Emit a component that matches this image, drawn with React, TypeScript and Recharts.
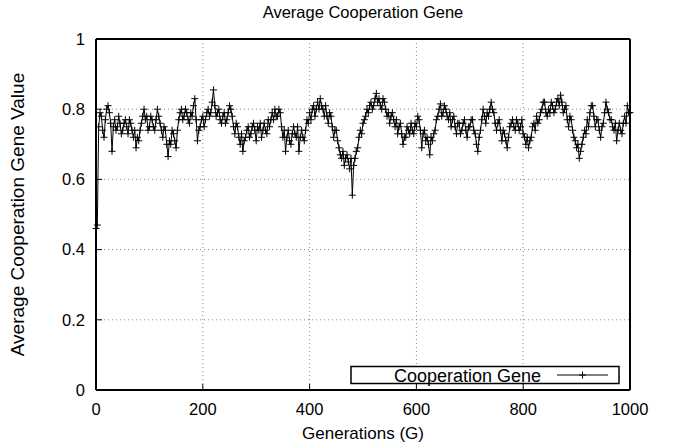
import React from 'react';
import { LineChart, Line, XAxis, YAxis, CartesianGrid } from 'recharts';

const generations = [
  0, 2.5, 5, 7.5, 10, 12.5, 15, 17.5, 20, 22.5, 25, 27.5, 30, 32.5, 35, 37.5, 40, 42.5, 45, 47.5,
  50, 52.5, 55, 57.5, 60, 62.5, 65, 67.5, 70, 72.5, 75, 77.5, 80, 82.5, 85, 87.5, 90, 92.5, 95, 97.5,
  100, 102.5, 105, 107.5, 110, 112.5, 115, 117.5, 120, 122.5, 125, 127.5, 130, 132.5, 135, 137.5, 140, 142.5, 145, 147.5,
  150, 152.5, 155, 157.5, 160, 162.5, 165, 167.5, 170, 172.5, 175, 177.5, 180, 182.5, 185, 187.5, 190, 192.5, 195, 197.5,
  200, 202.5, 205, 207.5, 210, 212.5, 215, 217.5, 220, 222.5, 225, 227.5, 230, 232.5, 235, 237.5, 240, 242.5, 245, 247.5,
  250, 252.5, 255, 257.5, 260, 262.5, 265, 267.5, 270, 272.5, 275, 277.5, 280, 282.5, 285, 287.5, 290, 292.5, 295, 297.5,
  300, 302.5, 305, 307.5, 310, 312.5, 315, 317.5, 320, 322.5, 325, 327.5, 330, 332.5, 335, 337.5, 340, 342.5, 345, 347.5,
  350, 352.5, 355, 357.5, 360, 362.5, 365, 367.5, 370, 372.5, 375, 377.5, 380, 382.5, 385, 387.5, 390, 392.5, 395, 397.5,
  400, 402.5, 405, 407.5, 410, 412.5, 415, 417.5, 420, 422.5, 425, 427.5, 430, 432.5, 435, 437.5, 440, 442.5, 445, 447.5,
  450, 452.5, 455, 457.5, 460, 462.5, 465, 467.5, 470, 472.5, 475, 477.5, 480, 482.5, 485, 487.5, 490, 492.5, 495, 497.5,
  500, 502.5, 505, 507.5, 510, 512.5, 515, 517.5, 520, 522.5, 525, 527.5, 530, 532.5, 535, 537.5, 540, 542.5, 545, 547.5,
  550, 552.5, 555, 557.5, 560, 562.5, 565, 567.5, 570, 572.5, 575, 577.5, 580, 582.5, 585, 587.5, 590, 592.5, 595, 597.5,
  600, 602.5, 605, 607.5, 610, 612.5, 615, 617.5, 620, 622.5, 625, 627.5, 630, 632.5, 635, 637.5, 640, 642.5, 645, 647.5,
  650, 652.5, 655, 657.5, 660, 662.5, 665, 667.5, 670, 672.5, 675, 677.5, 680, 682.5, 685, 687.5, 690, 692.5, 695, 697.5,
  700, 702.5, 705, 707.5, 710, 712.5, 715, 717.5, 720, 722.5, 725, 727.5, 730, 732.5, 735, 737.5, 740, 742.5, 745, 747.5,
  750, 752.5, 755, 757.5, 760, 762.5, 765, 767.5, 770, 772.5, 775, 777.5, 780, 782.5, 785, 787.5, 790, 792.5, 795, 797.5,
  800, 802.5, 805, 807.5, 810, 812.5, 815, 817.5, 820, 822.5, 825, 827.5, 830, 832.5, 835, 837.5, 840, 842.5, 845, 847.5,
  850, 852.5, 855, 857.5, 860, 862.5, 865, 867.5, 870, 872.5, 875, 877.5, 880, 882.5, 885, 887.5, 890, 892.5, 895, 897.5,
  900, 902.5, 905, 907.5, 910, 912.5, 915, 917.5, 920, 922.5, 925, 927.5, 930, 932.5, 935, 937.5, 940, 942.5, 945, 947.5,
  950, 952.5, 955, 957.5, 960, 962.5, 965, 967.5, 970, 972.5, 975, 977.5, 980, 982.5, 985, 987.5, 990, 992.5, 995, 997.5,
  1000,
];

const cooperationGene = [
  0.46, 0.47, 0.75, 0.79, 0.78, 0.74, 0.72, 0.77, 0.80, 0.81, 0.79, 0.76, 0.68, 0.75, 0.77, 0.74, 0.75, 0.78, 0.76, 0.73,
  0.74, 0.76, 0.77, 0.75, 0.73, 0.77, 0.76, 0.74, 0.72, 0.74, 0.69, 0.72, 0.71, 0.74, 0.76, 0.78, 0.80, 0.77, 0.78, 0.74,
  0.75, 0.78, 0.77, 0.75, 0.74, 0.77, 0.80, 0.78, 0.76, 0.74, 0.72, 0.75, 0.74, 0.70, 0.665, 0.71, 0.70, 0.74, 0.73, 0.71,
  0.69, 0.74, 0.77, 0.79, 0.80, 0.77, 0.78, 0.80, 0.79, 0.77, 0.76, 0.79, 0.78, 0.81, 0.83, 0.77, 0.71, 0.74, 0.75, 0.77,
  0.78, 0.75, 0.77, 0.79, 0.80, 0.78, 0.79, 0.82, 0.855, 0.81, 0.78, 0.79, 0.80, 0.77, 0.76, 0.78, 0.79, 0.76, 0.77, 0.79,
  0.81, 0.80, 0.78, 0.75, 0.73, 0.76, 0.75, 0.72, 0.70, 0.73, 0.68, 0.71, 0.72, 0.74, 0.75, 0.72, 0.73, 0.75, 0.76, 0.74,
  0.71, 0.75, 0.74, 0.76, 0.72, 0.74, 0.76, 0.74, 0.73, 0.77, 0.75, 0.77, 0.79, 0.77, 0.80, 0.78, 0.78, 0.80, 0.79, 0.75,
  0.72, 0.74, 0.68, 0.72, 0.74, 0.71, 0.70, 0.73, 0.75, 0.73, 0.72, 0.75, 0.68, 0.72, 0.74, 0.72, 0.71, 0.74, 0.77, 0.76,
  0.79, 0.77, 0.80, 0.81, 0.78, 0.80, 0.82, 0.80, 0.83, 0.81, 0.80, 0.78, 0.81, 0.78, 0.76, 0.79, 0.78, 0.75, 0.72, 0.74,
  0.74, 0.71, 0.69, 0.67, 0.66, 0.68, 0.64, 0.66, 0.67, 0.65, 0.63, 0.66, 0.555, 0.64, 0.66, 0.68, 0.69, 0.72, 0.74, 0.73,
  0.76, 0.77, 0.78, 0.80, 0.79, 0.81, 0.82, 0.80, 0.81, 0.83, 0.845, 0.82, 0.83, 0.81, 0.80, 0.83, 0.82, 0.80, 0.78, 0.79,
  0.76, 0.78, 0.79, 0.77, 0.75, 0.77, 0.73, 0.75, 0.76, 0.73, 0.70, 0.72, 0.72, 0.75, 0.74, 0.73, 0.76, 0.74, 0.73, 0.76,
  0.75, 0.78, 0.77, 0.74, 0.69, 0.73, 0.74, 0.71, 0.72, 0.70, 0.67, 0.72, 0.71, 0.73, 0.74, 0.77, 0.78, 0.80, 0.815, 0.78,
  0.79, 0.81, 0.80, 0.78, 0.77, 0.79, 0.75, 0.77, 0.78, 0.75, 0.73, 0.76, 0.76, 0.73, 0.74, 0.76, 0.77, 0.74, 0.72, 0.75,
  0.75, 0.77, 0.77, 0.74, 0.73, 0.70, 0.68, 0.72, 0.74, 0.77, 0.80, 0.78, 0.76, 0.79, 0.78, 0.80, 0.82, 0.80, 0.79, 0.76,
  0.74, 0.76, 0.77, 0.74, 0.71, 0.74, 0.73, 0.71, 0.69, 0.72, 0.75, 0.76, 0.77, 0.75, 0.74, 0.77, 0.76, 0.74, 0.75, 0.77,
  0.73, 0.72, 0.70, 0.72, 0.69, 0.71, 0.72, 0.75, 0.76, 0.74, 0.78, 0.76, 0.77, 0.79, 0.80, 0.82, 0.82, 0.79, 0.78, 0.80,
  0.79, 0.82, 0.81, 0.79, 0.80, 0.82, 0.83, 0.81, 0.84, 0.82, 0.79, 0.80, 0.81, 0.77, 0.75, 0.78, 0.77, 0.74, 0.72, 0.71,
  0.69, 0.70, 0.66, 0.68, 0.70, 0.72, 0.74, 0.73, 0.77, 0.75, 0.79, 0.81, 0.81, 0.78, 0.75, 0.77, 0.77, 0.74, 0.72, 0.75,
  0.76, 0.79, 0.82, 0.80, 0.79, 0.77, 0.77, 0.75, 0.74, 0.76, 0.71, 0.74, 0.76, 0.74, 0.73, 0.76, 0.78, 0.76, 0.81, 0.79,
  0.79,
];

const xTicks = [0, 200, 400, 600, 800, 1000];
const yTicks = [0, 0.2, 0.4, 0.6, 0.8, 1];

const title = 'Average Cooperation Gene';
const xLabel = 'Generations (G)';
const yLabel = 'Average Cooperation Gene Value';
const seriesName = 'Cooperation Gene';

const data = generations.map((g, i) => ({ g, v: cooperationGene[i] }));

const FONT = '"Liberation Sans", Arial, Helvetica, sans-serif';
const FS = 16.5;

const Plus = (props: any) => {
  const { cx, cy } = props;
  if (cx == null || cy == null) return <g />;
  return (
    <path
      d={`M${cx - 3.5},${cy}H${cx + 3.5}M${cx},${cy - 3.5}V${cy + 3.5}`}
      stroke="#000"
      strokeWidth={1}
      fill="none"
    />
  );
};

const tickStyle = { fill: '#000', fontSize: FS, fontFamily: FONT };

export default function App() {
  return (
    <div style={{ position: 'absolute', left: 0, top: 0, width: 680, height: 448, background: '#fff' }}>
      <LineChart
        width={680}
        height={448}
        data={data}
        margin={{ top: 38, right: 49, bottom: 0, left: 0 }}
      >
        <CartesianGrid
          xAxisId="bottom"
          yAxisId="left"
          stroke="#8a8a8a"
          strokeDasharray="1 3"
          horizontalValues={[0.2, 0.4, 0.6, 0.8]}
          verticalValues={[200, 400, 600, 800]}
        />
        <XAxis
          xAxisId="bottom"
          dataKey="g"
          type="number"
          domain={[0, 1000]}
          ticks={xTicks}
          height={58}
          tickSize={-6}
          tickMargin={19}
          axisLine={{ stroke: '#000', strokeWidth: 2 }}
          tickLine={{ stroke: '#000' }}
          tick={tickStyle}
          interval={0}
        />
        <XAxis
          xAxisId="top"
          orientation="top"
          dataKey="g"
          type="number"
          domain={[0, 1000]}
          ticks={xTicks}
          height={1}
          tickSize={-6}
          axisLine={{ stroke: '#000', strokeWidth: 2 }}
          tickLine={{ stroke: '#000' }}
          tick={false}
          interval={0}
        />
        <YAxis
          yAxisId="left"
          type="number"
          domain={[0, 1]}
          ticks={yTicks}
          width={96}
          tickSize={-6}
          tickMargin={17}
          axisLine={{ stroke: '#000', strokeWidth: 2 }}
          tickLine={{ stroke: '#000' }}
          tick={tickStyle}
          interval={0}
        />
        <YAxis
          yAxisId="right"
          orientation="right"
          type="number"
          domain={[0, 1]}
          ticks={yTicks}
          width={1}
          tickSize={-6}
          axisLine={{ stroke: '#000', strokeWidth: 2 }}
          tickLine={{ stroke: '#000' }}
          tick={false}
          interval={0}
        />
        <Line
          xAxisId="top"
          yAxisId="right"
          type="linear"
          dataKey="v"
          stroke="none"
          dot={false}
          activeDot={false}
          legendType="none"
          isAnimationActive={false}
        />
        <Line
          xAxisId="bottom"
          yAxisId="left"
          type="linear"
          dataKey="v"
          name={seriesName}
          stroke="#000"
          strokeWidth={1}
          dot={<Plus />}
          activeDot={false}
          isAnimationActive={false}
        />
      </LineChart>
      <svg
        width={680}
        height={448}
        style={{ position: 'absolute', left: 0, top: 0, pointerEvents: 'none' }}
        fontFamily={FONT}
        fill="#000"
      >
        <text x={363} y={18} textAnchor="middle" fontSize={FS}>{title}</text>
        <text x={363} y={439} textAnchor="middle" fontSize={17}>{xLabel}</text>
        <text x={24} y={214.5} textAnchor="middle" fontSize={19} transform="rotate(-90 24 214.5)">{yLabel}</text>
        <rect x={351} y={366.5} width={268} height={17} fill="#fff" stroke="#000" strokeWidth={1.5} />
        <text x={541} y={381.5} textAnchor="end" fontSize={18}>{seriesName}</text>
        <line x1={557} y1={375} x2={608} y2={375} stroke="#000" strokeWidth={1} />
        <path d="M582.5,371.5V378.5M579,375H586" stroke="#000" strokeWidth={1} />
      </svg>
    </div>
  );
}
